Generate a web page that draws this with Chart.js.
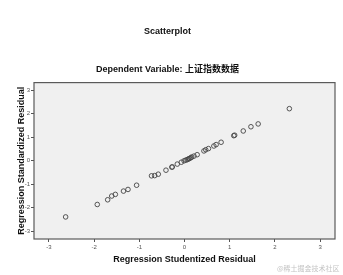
<!DOCTYPE html>
<html>
<head>
    <meta charset="utf-8">
    <title>Scatterplot</title>
    <script src="https://cdn.jsdelivr.net/npm/chart.js"></script>
    <style>
        body { margin: 0; background: #fff; }
        #wrap { position: relative; width: 343px; height: 275px; }
        #mark { position: absolute; left: 277px; top: 263px; font: 7px "Noto Sans CJK SC", sans-serif; color: #c4c4c4; white-space: nowrap; }
    </style>
</head>
<body>
    <div id="wrap">
        <canvas id="scatter" width="343" height="275"></canvas>
        <div id="mark">@稀土掘金技术社区</div>
    </div>

    <script>
        // studentized residuals (x) vs standardized residuals (y)
        const studentized = [-2.63, -1.93, -1.70, -1.61, -1.53, -1.35, -1.25, -1.06,
            -0.73, -0.66, -0.58, -0.41, -0.28, -0.27, -0.16, -0.07, -0.01, 0.03, 0.06,
            0.09, 0.11, 0.14, 0.16, 0.21, 0.28, 0.43, 0.47, 0.53, 0.65, 0.70, 0.81,
            1.09, 1.11, 1.30, 1.47, 1.63, 2.32];
        const standardized = [-2.39, -1.86, -1.66, -1.50, -1.43, -1.29, -1.22, -1.04,
            -0.64, -0.63, -0.57, -0.40, -0.27, -0.26, -0.14, -0.06, 0.00, 0.03, 0.05,
            0.08, 0.10, 0.13, 0.16, 0.20, 0.26, 0.42, 0.47, 0.52, 0.63, 0.69, 0.79,
            1.07, 1.09, 1.27, 1.45, 1.57, 2.22];
        const axisMin = -3.33;
        const axisMax = 3.33;

        const points = studentized.map((x, i) => ({ x: x, y: standardized[i] }));

        // plot background + frame
        const plotFrame = {
            id: 'plotFrame',
            beforeDraw(chart) {
                const a = chart.chartArea, ctx = chart.ctx;
                ctx.save();
                ctx.fillStyle = '#f0f0f0';
                ctx.fillRect(a.left, a.top, a.right - a.left, a.bottom - a.top);
                ctx.restore();
            },
            afterDatasetsDraw(chart) {
                const a = chart.chartArea, ctx = chart.ctx;
                ctx.save();
                ctx.strokeStyle = '#5a5a5a';
                ctx.lineWidth = 1.2;
                ctx.strokeRect(a.left, a.top, a.right - a.left, a.bottom - a.top);
                ctx.restore();
            }
        };

        const boldFont = { family: 'Liberation Sans, Arial, Noto Sans CJK SC', weight: 'bold' };

        new Chart(document.getElementById('scatter'), {
            type: 'scatter',
            data: {
                datasets: [{
                    data: points,
                    pointStyle: 'circle',
                    pointRadius: 2.3,
                    pointBorderWidth: 0.9,
                    pointBorderColor: '#444',
                    pointBackgroundColor: 'rgba(0,0,0,0)'
                }]
            },
            plugins: [plotFrame],
            options: {
                responsive: false,
                animation: false,
                layout: { padding: { left: 0, right: 8, top: 0, bottom: 0 } },
                plugins: {
                    legend: { display: false },
                    tooltip: { enabled: false },
                    title: {
                        display: true,
                        text: 'Scatterplot',
                        color: '#111',
                        font: { ...boldFont, size: 9 },
                        padding: { top: 26, bottom: 0 }
                    },
                    subtitle: {
                        display: true,
                        text: 'Dependent Variable: 上证指数数据',
                        color: '#111',
                        font: { ...boldFont, size: 9 },
                        padding: { top: 27, bottom: 8 }
                    }
                },
                scales: {
                    x: {
                        type: 'linear',
                        min: axisMin,
                        max: axisMax,
                        afterFit(scale) { scale.height = 36; },
                        ticks: { stepSize: 1, includeBounds: false, color: '#555', font: { size: 6 }, padding: 2, maxRotation: 0 },
                        grid: { drawOnChartArea: false, tickLength: 3, color: '#555' },
                        border: { display: false },
                        title: {
                            display: true,
                            text: 'Regression Studentized Residual',
                            color: '#111',
                            font: { ...boldFont, size: 9 },
                            padding: { top: 0, bottom: 10 }
                        }
                    },
                    y: {
                        type: 'linear',
                        min: axisMin,
                        max: axisMax,
                        afterFit(scale) { scale.width = 34; },
                        ticks: { stepSize: 1, includeBounds: false, color: '#555', font: { size: 6 }, padding: 1 },
                        grid: { drawOnChartArea: false, tickLength: 3, color: '#555' },
                        border: { display: false },
                        title: {
                            display: true,
                            text: 'Regression Standardized Residual',
                            color: '#111',
                            font: { ...boldFont, size: 9 },
                            padding: { top: 16, bottom: 0 }
                        }
                    }
                }
            }
        });
    </script>
</body>
</html>
